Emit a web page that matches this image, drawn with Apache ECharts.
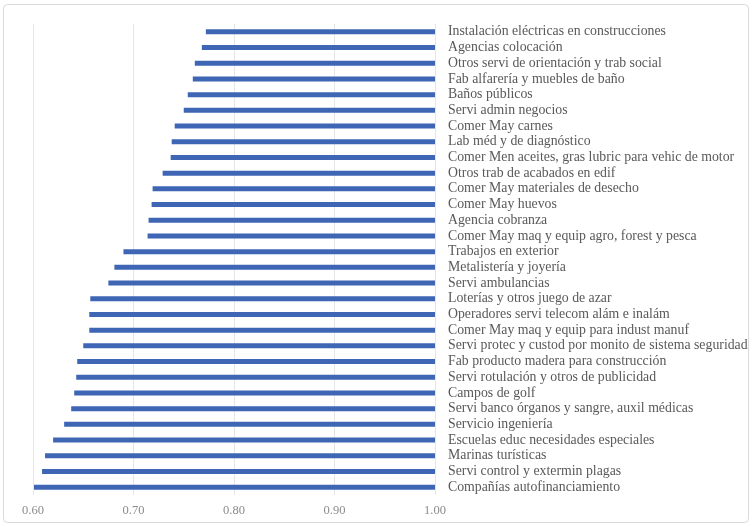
<!DOCTYPE html>
<html>
<head>
<meta charset="utf-8">
<script src="https://cdn.jsdelivr.net/npm/echarts@6/dist/echarts.min.js"></script>
<style>
html,body{margin:0;padding:0;background:#fff;}
#chart{width:753px;height:527px;}
</style>
</head>
<body>
<div id="chart"></div>
<script>
const categories = [
  "Instalación eléctricas en construcciones",
  "Agencias colocación",
  "Otros servi de orientación y trab social",
  "Fab alfarería y muebles de baño",
  "Baños públicos",
  "Servi admin negocios",
  "Comer May carnes",
  "Lab méd y de diagnóstico",
  "Comer Men aceites, gras lubric para vehic de motor",
  "Otros trab de acabados en edif",
  "Comer May materiales de desecho",
  "Comer May huevos",
  "Agencia cobranza",
  "Comer May maq y equip agro, forest y pesca",
  "Trabajos en exterior",
  "Metalistería y joyería",
  "Servi ambulancias",
  "Loterías y otros juego de azar",
  "Operadores servi telecom alám e inalám",
  "Comer May maq y equip para indust manuf",
  "Servi protec y custod por monito de sistema seguridad",
  "Fab producto madera para construcción",
  "Servi rotulación y otros de publicidad",
  "Campos de golf",
  "Servi banco órganos y sangre, auxil médicas",
  "Servicio ingeniería",
  "Escuelas educ necesidades especiales",
  "Marinas turísticas",
  "Servi control y extermin plagas",
  "Compañías autofinanciamiento"
];
const values = [
  0.772, 0.768, 0.761, 0.759, 0.754, 0.750, 0.741, 0.738, 0.737, 0.729,
  0.719, 0.718, 0.715, 0.714, 0.690, 0.681, 0.675, 0.657, 0.656, 0.656,
  0.650, 0.644, 0.643, 0.641, 0.638, 0.631, 0.620, 0.612, 0.609, 0.601
];
const axisMin = 0.6;
const axisMax = 1.0;   // category axis crosses the value axis here
const tickStep = 0.1;

const chart = echarts.init(document.getElementById('chart'));
const font = '"Liberation Serif", "DejaVu Serif", serif';
chart.setOption({
  animation: false,
  backgroundColor: '#fff',
  graphic: [{
    type: 'rect',
    shape: {x: 3.5, y: 4.5, width: 745, height: 518, r: 4},
    style: {fill: 'none', stroke: '#d9d9d9', lineWidth: 1},
    silent: true
  }],
  grid: {left: 33, right: 318, top: 24, bottom: 32, containLabel: false},
  xAxis: {
    type: 'value',
    min: axisMin,
    max: axisMax,
    interval: tickStep,
    axisLine: {show: false},
    axisTick: {show: false},
    splitLine: {show: true, lineStyle: {color: '#e6e6e6', width: 1}},
    axisLabel: {
      color: '#8c8c8c', fontFamily: font, fontSize: 12.5, margin: 9,
      formatter: v => v.toFixed(2)
    }
  },
  yAxis: {
    type: 'category',
    data: categories,
    inverse: true,
    position: 'right',
    axisLine: {show: false},
    axisTick: {show: false},
    splitLine: {show: false},
    axisLabel: {
      color: '#595959', fontFamily: font, fontSize: 13.8, margin: 13,
      align: 'left', interval: 0
    }
  },
  series: [
    {
      type: 'bar',
      stack: 'a',
      data: values,
      barWidth: 5,
      itemStyle: {color: 'rgba(0,0,0,0)'},
      silent: true
    },
    {
      type: 'bar',
      stack: 'a',
      data: values.map(v => +(axisMax - v).toFixed(4)),
      barWidth: 5,
      itemStyle: {color: '#3e66b4'}
    }
  ]
});
</script>
</body>
</html>
